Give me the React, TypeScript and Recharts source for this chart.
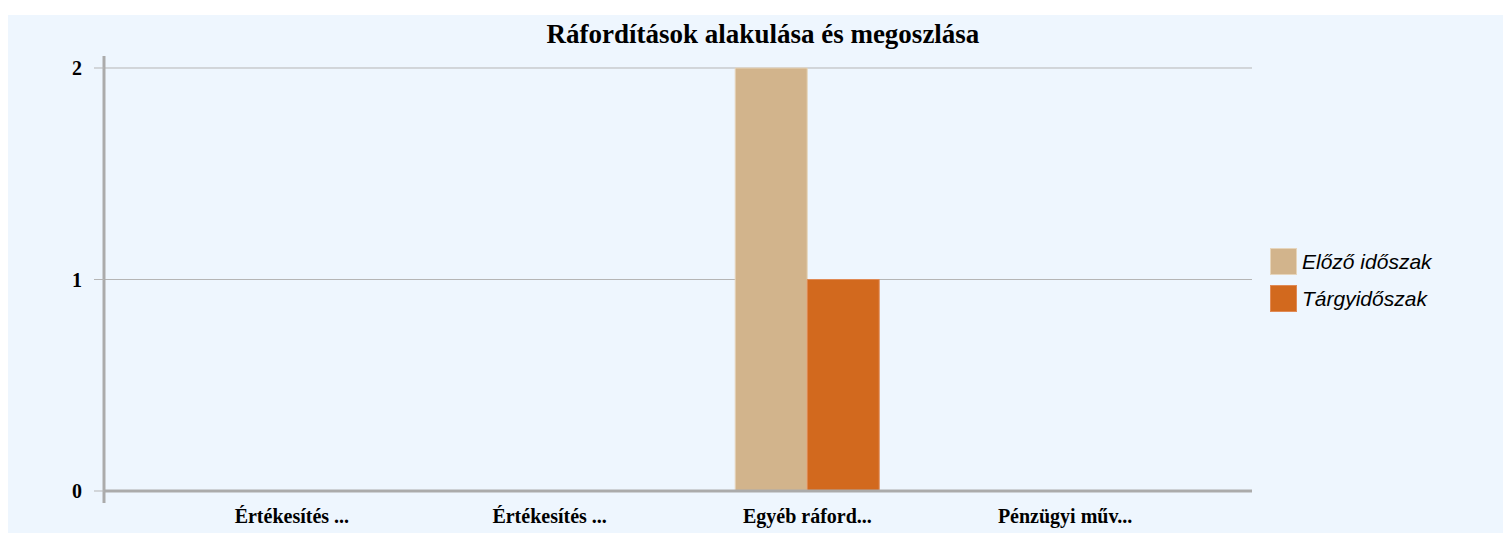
import * as Recharts from 'recharts';
import { BarChart, Bar, XAxis, YAxis, CartesianGrid } from 'recharts';

const CATEGORIES = ['Értékesítés ...', 'Értékesítés ...', 'Egyéb ráford...', 'Pénzügyi műv...'];
const PREVIOUS = [0, 0, 2, 0];
const CURRENT = [0, 0, 1, 0];
const Y_TICKS = [0, 1, 2];

const SERIES = [
  { key: 'elozo', name: 'Előző időszak', color: '#D2B48C', border: '#E6D5BC' },
  { key: 'targy', name: 'Tárgyidőszak', color: '#D2691E', border: '#E08A55' },
];

const data = CATEGORIES.map((c, i) => ({
  name: c,
  elozo: PREVIOUS[i],
  targy: CURRENT[i],
}));

const AXIS = '#ABABAB';
const GRID = '#B5B5B5';
const SERIF = '"Liberation Serif", "Times New Roman", serif';
const SANS = '"Liberation Sans", Arial, sans-serif';

// vertical axis that sticks out a bit above and below the plot
function YAxisLine() {
  const usePlotArea = (Recharts as any).usePlotArea;
  const area = usePlotArea ? usePlotArea() : undefined;
  if (!area) return null;
  return (
    <line
      x1={area.x}
      x2={area.x}
      y1={area.y - 12}
      y2={area.y + area.height + 12}
      stroke={AXIS}
      strokeWidth={3}
    />
  );
}

export default function App() {
  return (
    <div
      style={{
        position: 'relative',
        top: 7,
        width: 1503,
        height: 530,
        background: '#EEF6FE',
      }}
    >
      <div
        style={{
          position: 'absolute',
          left: 0,
          width: 1510,
          top: 3,
          lineHeight: '32px',
          textAlign: 'center',
          fontFamily: SERIF,
          fontWeight: 'bold',
          fontSize: 27,
          color: '#000',
        }}
      >
        Ráfordítások alakulása és megoszlása
      </div>

      <BarChart
        width={1503}
        height={518}
        data={data}
        margin={{ top: 53, right: 259, bottom: 0, left: 0 }}
        barCategoryGap="22%"
        barGap={0}
        style={{ position: 'absolute', left: 0, top: 0 }}
      >
        <CartesianGrid vertical={false} stroke={GRID} strokeWidth={1} />
        <XAxis
          dataKey="name"
          height={42}
          padding={{ left: 59, right: 58 }}
          tickLine={false}
          tickSize={0}
          tickMargin={18}
          axisLine={{ stroke: AXIS, strokeWidth: 3 }}
          tick={{ fill: '#000', fontFamily: SERIF, fontWeight: 'bold', fontSize: 20 }}
          interval={0}
        />
        <YAxis
          width={96}
          domain={[0, 2]}
          ticks={Y_TICKS}
          allowDecimals={false}
          axisLine={false}
          tickLine={{ stroke: GRID }}
          tickSize={10}
          tickMargin={12}
          tick={{ fill: '#000', fontFamily: SERIF, fontWeight: 'bold', fontSize: 20 }}
        />
        {SERIES.map((s) => (
          <Bar
            key={s.key}
            dataKey={s.key}
            name={s.name}
            fill={s.color}
            stroke={s.border}
            strokeWidth={1}
            isAnimationActive={false}
          />
        ))}
        <YAxisLine />
      </BarChart>

      <div style={{ position: 'absolute', left: 1262, top: 233 }}>
        {SERIES.map((s) => (
          <div
            key={s.key}
            style={{ display: 'flex', alignItems: 'center', height: 27, marginBottom: 10 }}
          >
            <div
              style={{
                width: 25,
                height: 25,
                background: s.color,
                border: `1px solid ${s.border}`,
              }}
            />
            <span
              style={{
                marginLeft: 5,
                fontFamily: SANS,
                fontStyle: 'italic',
                fontSize: 21,
                color: '#000',
              }}
            >
              {s.name}
            </span>
          </div>
        ))}
      </div>
    </div>
  );
}
